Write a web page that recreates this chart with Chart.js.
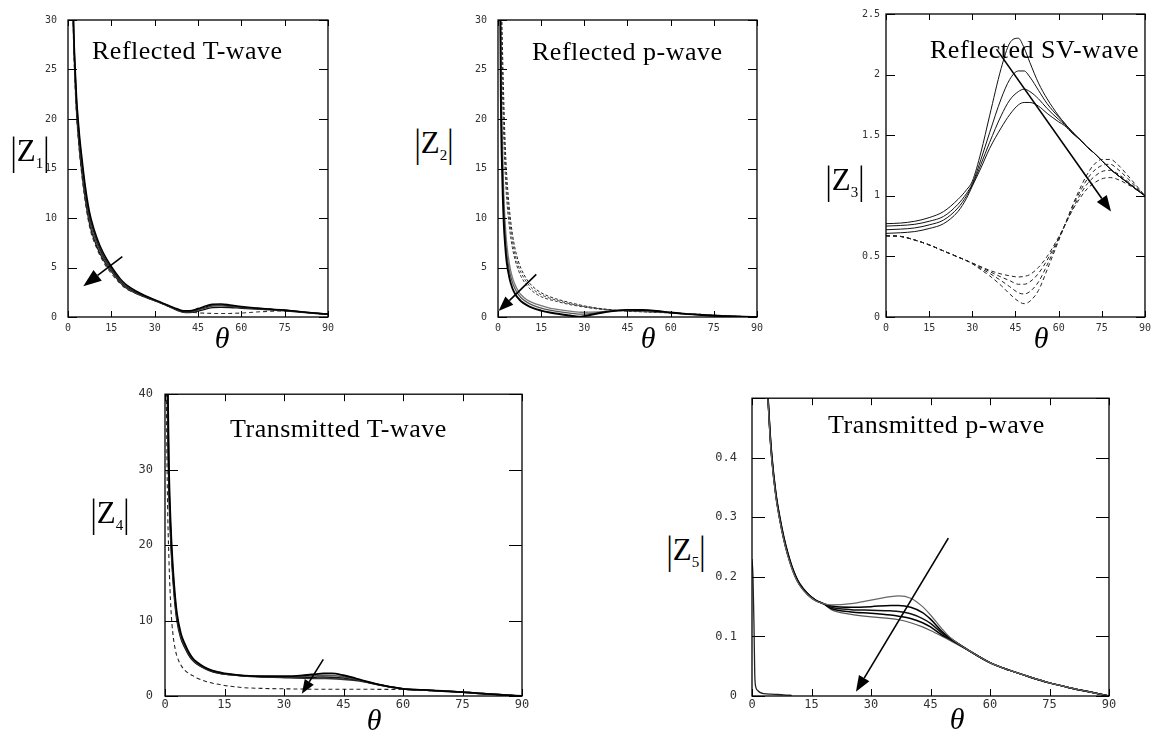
<!DOCTYPE html>
<html>
<head>
<meta charset="utf-8">
<script src="https://cdn.jsdelivr.net/npm/chart.js@4.4.1/dist/chart.umd.min.js"></script>
<style>
  body { margin: 0; width: 1161px; height: 733px; position: relative; overflow: hidden; background: #fff; font-family: 'Liberation Serif', 'Times New Roman', serif; color: #000; }
  canvas { position: absolute; }
  .title { position: absolute; font-size: 26px; line-height: 26px; letter-spacing: .5px; white-space: nowrap; }
  .zlab { position: absolute; transform: translate(-50%, -50%); font-size: 31px; line-height: 1; white-space: nowrap; color: #000; }
  .zlab .bar { display: inline-block; transform: scaleY(1.3); }
  .zlab sub { font-size: 15px; color: #000; }
  .theta { position: absolute; transform: translate(-50%, -50%); font-size: 30px; font-style: italic; line-height: 1; }
</style>
</head>
<body>
<div class="title" style="left:92px;top:38px">Reflected T-wave</div>
<div class="title" style="left:532px;top:39px">Reflected p-wave</div>
<div class="title" style="left:930px;top:37px">Reflected SV-wave</div>
<div class="title" style="left:230px;top:416px">Transmitted T-wave</div>
<div class="title" style="left:828px;top:412px">Transmitted p-wave</div>

<div class="zlab" style="left:30px;top:153px"><span class="bar">|</span>Z<sub>1</sub><span class="bar">|</span></div>
<div class="zlab" style="left:434px;top:145px"><span class="bar">|</span>Z<sub>2</sub><span class="bar">|</span></div>
<div class="zlab" style="left:845px;top:182px"><span class="bar">|</span>Z<sub>3</sub><span class="bar">|</span></div>
<div class="zlab" style="left:110px;top:515px"><span class="bar">|</span>Z<sub>4</sub><span class="bar">|</span></div>
<div class="zlab" style="left:686px;top:552px"><span class="bar">|</span>Z<sub>5</sub><span class="bar">|</span></div>

<div class="theta" style="left:222px;top:338px">θ</div>
<div class="theta" style="left:648px;top:338px">θ</div>
<div class="theta" style="left:1041px;top:338px">θ</div>
<div class="theta" style="left:374px;top:720px">θ</div>
<div class="theta" style="left:957px;top:719px">θ</div>

<script>
// angle grid shared by all panels
const thetaTicks = [0, 15, 30, 45, 60, 75, 90];

// |Z1| reflected T-wave
const th1 = [1.5, 2, 2.5, 3, 3.5, 4, 5, 6, 7, 8, 10, 12, 15, 18, 20, 25, 30, 35, 38, 40, 42, 45, 48, 50, 53, 56, 60, 65, 70, 75, 80, 85, 90];
const z1a = [36, 29, 25, 22, 20, 18.3, 15.6, 13.2, 11.3, 9.9, 8.0, 6.6, 5.1, 3.9, 3.3, 2.4, 1.75, 1.15, 0.8, 0.62, 0.62, 0.85, 1.15, 1.3, 1.32, 1.22, 1.05, 0.9, 0.8, 0.7, 0.55, 0.4, 0.3];
const z1b = [35, 28.5, 24.5, 21.5, 19.5, 17.8, 15.1, 12.8, 10.9, 9.5, 7.7, 6.3, 4.9, 3.7, 3.1, 2.3, 1.7, 1.1, 0.72, 0.55, 0.56, 0.78, 1.05, 1.2, 1.22, 1.15, 1.0, 0.88, 0.78, 0.68, 0.54, 0.4, 0.3];
const z1c = [34, 28, 24, 21, 19, 17.3, 14.6, 12.3, 10.5, 9.1, 7.4, 6.1, 4.7, 3.6, 3.0, 2.25, 1.68, 1.08, 0.68, 0.5, 0.5, 0.7, 0.95, 1.1, 1.12, 1.07, 0.95, 0.85, 0.76, 0.66, 0.52, 0.38, 0.28];
const z1d = [33, 27.5, 23.5, 20.5, 18.5, 16.8, 14.1, 11.9, 10.1, 8.8, 7.1, 5.9, 4.6, 3.5, 2.95, 2.2, 1.65, 1.05, 0.65, 0.48, 0.45, 0.6, 0.82, 0.95, 0.98, 0.96, 0.88, 0.8, 0.72, 0.62, 0.5, 0.36, 0.26];
const z1e = [34, 27, 23, 20.2, 18.2, 16.5, 13.8, 11.6, 9.8, 8.5, 6.9, 5.7, 4.4, 3.4, 2.9, 2.2, 1.65, 1.05, 0.7, 0.55, 0.48, 0.42, 0.38, 0.36, 0.35, 0.36, 0.4, 0.5, 0.58, 0.62, 0.52, 0.38, 0.28];
const z1Ticks = [0, 5, 10, 15, 20, 25, 30];

// |Z2| reflected p-wave
const th2 = [0.5, 1, 1.5, 2, 2.5, 3, 4, 5, 6, 7, 8, 10, 12, 15, 18, 20, 25, 28, 30, 35, 40, 45, 50, 55, 60, 65, 70, 75, 80, 85, 90];
const z2a = [45, 22, 14, 9.5, 7.2, 5.6, 3.9, 2.9, 2.3, 1.9, 1.6, 1.2, 0.92, 0.65, 0.45, 0.35, 0.15, 0.04, 0.1, 0.38, 0.6, 0.72, 0.7, 0.6, 0.45, 0.32, 0.22, 0.13, 0.07, 0.03, 0];
const z2b = [45, 24, 16, 11, 8.3, 6.5, 4.6, 3.5, 2.8, 2.3, 1.95, 1.5, 1.2, 0.9, 0.7, 0.6, 0.4, 0.3, 0.3, 0.45, 0.6, 0.7, 0.68, 0.58, 0.44, 0.32, 0.22, 0.13, 0.07, 0.03, 0];
const z2c = [45, 26, 18, 12.5, 9.5, 7.5, 5.3, 4.0, 3.2, 2.65, 2.25, 1.75, 1.45, 1.15, 0.9, 0.8, 0.6, 0.5, 0.48, 0.52, 0.62, 0.68, 0.65, 0.56, 0.43, 0.31, 0.21, 0.13, 0.07, 0.03, 0];
const z2d = [50, 36, 28, 22, 17.5, 14.5, 10.8, 8.4, 6.8, 5.7, 4.9, 3.8, 3.1, 2.45, 2.05, 1.85, 1.45, 1.25, 1.12, 0.88, 0.72, 0.62, 0.56, 0.5, 0.44, 0.36, 0.28, 0.2, 0.12, 0.06, 0];
const z2e = [48, 33, 25.5, 20, 16, 13.2, 9.9, 7.7, 6.2, 5.2, 4.5, 3.5, 2.85, 2.25, 1.9, 1.72, 1.35, 1.17, 1.06, 0.84, 0.7, 0.6, 0.54, 0.48, 0.42, 0.34, 0.26, 0.19, 0.11, 0.05, 0];
const z2f = [46, 30, 23, 18, 14.5, 12, 9.0, 7.0, 5.7, 4.8, 4.1, 3.2, 2.6, 2.05, 1.75, 1.6, 1.25, 1.1, 1.0, 0.8, 0.67, 0.58, 0.52, 0.46, 0.4, 0.32, 0.25, 0.18, 0.1, 0.05, 0];
const z2Ticks = [0, 5, 10, 15, 20, 25, 30];

// |Z3| reflected SV-wave
const th3 = [0, 5, 10, 15, 20, 25, 28, 30, 33, 36, 40, 43, 46, 48, 50, 53, 56, 60, 62, 65, 68, 70, 72, 75, 78, 80, 85, 90];
const z3a = [0.77, 0.775, 0.79, 0.82, 0.87, 0.97, 1.05, 1.12, 1.36, 1.66, 2.05, 2.26, 2.3, 2.22, 2.1, 1.93, 1.8, 1.66, 1.6, 1.52, 1.45, 1.4, 1.36, 1.29, 1.22, 1.18, 1.09, 1.0];
const z3b = [0.75, 0.755, 0.765, 0.79, 0.83, 0.93, 1.02, 1.1, 1.3, 1.52, 1.8, 1.96, 2.03, 2.03, 1.98, 1.87, 1.76, 1.65, 1.6, 1.52, 1.45, 1.4, 1.36, 1.29, 1.22, 1.18, 1.09, 1.0];
const z3c = [0.72, 0.725, 0.735, 0.76, 0.8, 0.9, 1.0, 1.09, 1.26, 1.44, 1.66, 1.79, 1.86, 1.88, 1.86, 1.8, 1.72, 1.63, 1.59, 1.52, 1.45, 1.4, 1.36, 1.29, 1.22, 1.18, 1.09, 1.0];
const z3d = [0.69, 0.695, 0.705, 0.73, 0.77, 0.87, 0.98, 1.08, 1.23, 1.39, 1.56, 1.67, 1.75, 1.77, 1.77, 1.74, 1.68, 1.61, 1.58, 1.51, 1.45, 1.4, 1.36, 1.29, 1.22, 1.18, 1.09, 1.0];
const z3e = [0.67, 0.665, 0.635, 0.595, 0.545, 0.495, 0.465, 0.445, 0.415, 0.385, 0.355, 0.34, 0.33, 0.335, 0.35, 0.41, 0.5, 0.66, 0.75, 0.89, 1.0, 1.06, 1.1, 1.14, 1.15, 1.14, 1.08, 1.0];
const z3f = [0.67, 0.665, 0.635, 0.595, 0.545, 0.495, 0.465, 0.445, 0.41, 0.375, 0.33, 0.3, 0.27, 0.27, 0.29, 0.36, 0.47, 0.65, 0.75, 0.9, 1.03, 1.1, 1.15, 1.2, 1.21, 1.19, 1.1, 1.0];
const z3g = [0.67, 0.665, 0.635, 0.595, 0.545, 0.495, 0.465, 0.44, 0.4, 0.36, 0.3, 0.25, 0.2, 0.19, 0.21, 0.29, 0.43, 0.64, 0.75, 0.92, 1.06, 1.14, 1.2, 1.25, 1.26, 1.23, 1.12, 1.0];
const z3h = [0.67, 0.665, 0.635, 0.595, 0.545, 0.495, 0.465, 0.44, 0.39, 0.34, 0.26, 0.19, 0.13, 0.11, 0.13, 0.22, 0.39, 0.63, 0.75, 0.93, 1.09, 1.18, 1.25, 1.3, 1.3, 1.27, 1.14, 1.0];
const z3Ticks = [0, 0.5, 1, 1.5, 2, 2.5];

// |Z4| transmitted T-wave
const th4 = [0.3, 0.6, 1, 1.5, 2, 2.5, 3, 4, 5, 6, 7, 8, 10, 12, 15, 18, 20, 25, 30, 35, 38, 40, 42, 45, 48, 50, 55, 60, 65, 70, 75, 80, 85, 90];
const z4a = [70, 45, 30, 22, 17, 13.5, 11, 8.3, 6.9, 5.8, 5.0, 4.5, 3.8, 3.35, 3.0, 2.8, 2.7, 2.62, 2.62, 2.75, 2.9, 3.0, 3.0, 2.75, 2.35, 2.05, 1.4, 0.95, 0.8, 0.66, 0.52, 0.32, 0.15, 0];
const z4b = [66, 43, 29, 21, 16.5, 13, 10.6, 8.0, 6.7, 5.65, 4.9, 4.4, 3.75, 3.3, 2.95, 2.78, 2.68, 2.6, 2.55, 2.6, 2.7, 2.75, 2.72, 2.55, 2.25, 2.0, 1.4, 0.95, 0.8, 0.66, 0.52, 0.32, 0.15, 0];
const z4c = [62, 41, 28, 20.5, 16, 12.6, 10.3, 7.8, 6.5, 5.5, 4.8, 4.3, 3.7, 3.25, 2.92, 2.76, 2.66, 2.55, 2.48, 2.45, 2.5, 2.52, 2.5, 2.38, 2.15, 1.95, 1.38, 0.95, 0.8, 0.66, 0.52, 0.32, 0.15, 0];
const z4d = [58, 39, 27, 20, 15.5, 12.2, 10, 7.6, 6.4, 5.4, 4.7, 4.25, 3.65, 3.2, 2.9, 2.74, 2.64, 2.52, 2.43, 2.35, 2.33, 2.32, 2.3, 2.2, 2.05, 1.9, 1.36, 0.94, 0.79, 0.65, 0.51, 0.32, 0.15, 0];
const z4e = [42, 27, 18, 11.5, 8.2, 6.4, 5.3, 4.1, 3.4, 3.0, 2.7, 2.4, 2.0, 1.7, 1.4, 1.2, 1.1, 1.0, 0.95, 0.92, 0.9, 0.9, 0.9, 0.9, 0.89, 0.89, 0.88, 0.86, 0.76, 0.64, 0.5, 0.32, 0.15, 0];
const z4Ticks = [0, 10, 20, 30, 40];

// |Z5| transmitted p-wave
const th5 = [3.5, 4, 4.5, 5, 6, 7, 8, 9, 10, 11, 12, 14, 16, 18, 20, 25, 30, 35, 37, 40, 43, 45, 48, 50, 55, 60, 65, 70, 75, 80, 85, 90];
const z5a = [0.56, 0.5, 0.44, 0.395, 0.335, 0.295, 0.262, 0.236, 0.215, 0.198, 0.186, 0.17, 0.16, 0.155, 0.153, 0.155, 0.161, 0.167, 0.168, 0.164, 0.15, 0.136, 0.112, 0.098, 0.075, 0.056, 0.043, 0.032, 0.022, 0.014, 0.007, 0];
const z5b = [0.565, 0.503, 0.443, 0.398, 0.338, 0.297, 0.264, 0.238, 0.217, 0.2, 0.187, 0.171, 0.161, 0.155, 0.151, 0.149, 0.15, 0.152, 0.152, 0.149, 0.14, 0.129, 0.108, 0.097, 0.075, 0.056, 0.043, 0.032, 0.022, 0.014, 0.007, 0];
const z5c = [0.57, 0.506, 0.446, 0.401, 0.34, 0.299, 0.266, 0.24, 0.218, 0.201, 0.188, 0.172, 0.161, 0.155, 0.149, 0.145, 0.144, 0.143, 0.142, 0.138, 0.13, 0.122, 0.105, 0.096, 0.075, 0.056, 0.043, 0.032, 0.022, 0.014, 0.007, 0];
const z5d = [0.575, 0.509, 0.449, 0.404, 0.342, 0.301, 0.268, 0.241, 0.219, 0.202, 0.189, 0.172, 0.161, 0.155, 0.147, 0.141, 0.139, 0.136, 0.134, 0.13, 0.123, 0.116, 0.102, 0.095, 0.075, 0.056, 0.043, 0.032, 0.022, 0.014, 0.007, 0];
const z5e = [0.56, 0.5, 0.44, 0.395, 0.335, 0.295, 0.262, 0.236, 0.215, 0.198, 0.186, 0.17, 0.16, 0.155, 0.145, 0.137, 0.133, 0.13, 0.128, 0.123, 0.116, 0.11, 0.1, 0.093, 0.075, 0.056, 0.043, 0.032, 0.022, 0.014, 0.007, 0];
const th5s = [0, 0.25, 0.5, 0.7, 1, 1.5, 2, 3, 5, 8, 10];
const z5s = [0.23, 0.2, 0.12, 0.035, 0.014, 0.009, 0.006, 0.004, 0.003, 0.002, 0.001];
const z5Ticks = [0, 0.1, 0.2, 0.3, 0.4, 0.5];

// direction arrows, [from, to] in (theta, |Z|)
const arrow1 = [[18.8, 6.1], [5.3, 3.1]];
const arrow2 = [[13.3, 4.3], [0.2, 0.6]];
const arrow3 = [[38.4, 2.21], [78.2, 0.87]];
const arrow4 = [[39.9, 4.85], [34.5, 0.3]];
const arrow5 = [[49.5, 0.265], [26.2, 0.007]];

// box, inward ticks on all four sides, and the arrow
const framePlugin = {
  id: 'frame',
  afterDatasetsDraw(chart, args, opts) {
    const { ctx, chartArea: a, scales: { x, y } } = chart;
    ctx.save();
    ctx.strokeStyle = '#000';
    ctx.lineWidth = 1.3;
    ctx.strokeRect(a.left, a.top, a.right - a.left, a.bottom - a.top);
    ctx.beginPath();
    x.ticks.forEach(t => {
      const px = Math.round(x.getPixelForValue(t.value)) + 0.5;
      ctx.moveTo(px, a.bottom); ctx.lineTo(px, a.bottom - opts.xTick);
      ctx.moveTo(px, a.top); ctx.lineTo(px, a.top + opts.xTick);
    });
    y.ticks.forEach(t => {
      const py = Math.round(y.getPixelForValue(t.value)) + 0.5;
      ctx.moveTo(a.left, py); ctx.lineTo(a.left + opts.yTick, py);
      ctx.moveTo(a.right, py); ctx.lineTo(a.right - opts.yTick, py);
    });
    ctx.lineWidth = 1;
    ctx.stroke();

    if (opts.arrow) {
      const [p0, p1] = opts.arrow;
      const x0 = x.getPixelForValue(p0[0]), y0 = y.getPixelForValue(p0[1]);
      const x1 = x.getPixelForValue(p1[0]), y1 = y.getPixelForValue(p1[1]);
      const ang = Math.atan2(y1 - y0, x1 - x0);
      const hl = opts.head || 15, hw = (opts.head || 15) * 0.38;
      const bx = x1 - hl * Math.cos(ang), by = y1 - hl * Math.sin(ang);
      ctx.fillStyle = '#000';
      ctx.lineWidth = 1.6;
      ctx.beginPath();
      ctx.moveTo(x0, y0); ctx.lineTo(bx, by);
      ctx.stroke();
      ctx.beginPath();
      ctx.moveTo(x1, y1);
      ctx.lineTo(bx + hw * Math.sin(ang), by - hw * Math.cos(ang));
      ctx.lineTo(bx - hw * Math.sin(ang), by + hw * Math.cos(ang));
      ctx.closePath();
      ctx.fill();
    }
    ctx.restore();
  }
};

function line(xs, ys, color, width, dash) {
  return {
    data: xs.map((v, i) => ({ x: v, y: ys[i] })),
    borderColor: color,
    borderWidth: width,
    borderDash: dash || [],
    pointRadius: 0,
    fill: false,
    cubicInterpolationMode: 'monotone'
  };
}

function panel(p) {
  const [L, R, T, B] = p.rect;
  const c = document.createElement('canvas');
  c.width = R - L + 50;
  c.height = B - T + 40;
  c.style.left = (L - 40) + 'px';
  c.style.top = (T - 10) + 'px';
  document.body.insertBefore(c, document.body.firstChild);

  const font = { family: 'DejaVu Sans Mono', size: p.fontSize };
  new Chart(c, {
    type: 'line',
    data: { datasets: p.series },
    options: {
      responsive: false,
      animation: false,
      devicePixelRatio: 1,
      layout: { padding: { top: 10, right: 10, left: 0, bottom: 0 } },
      plugins: {
        legend: { display: false },
        tooltip: { enabled: false },
        frame: { xTick: p.xTick, yTick: p.yTick, arrow: p.arrow, head: p.head }
      },
      scales: {
        x: {
          type: 'linear', min: 0, max: 90,
          afterBuildTicks: s => { s.ticks = thetaTicks.map(v => ({ value: v })); },
          ticks: { font, color: '#333', padding: p.xPad, maxRotation: 0, autoSkip: false },
          grid: { display: false, drawTicks: false },
          border: { display: false },
          afterFit: s => { s.height = 30; }
        },
        y: {
          type: 'linear', min: 0, max: p.yTicks[p.yTicks.length - 1],
          afterBuildTicks: s => { s.ticks = p.yTicks.map(v => ({ value: v })); },
          ticks: { font, color: '#333', padding: p.yPad, autoSkip: false, callback: p.yLabel || (v => v) },
          grid: { display: false, drawTicks: false },
          border: { display: false },
          afterFit: s => { s.width = 40; }
        }
      }
    },
    plugins: [framePlugin]
  });
}

const dash = [4, 3];

panel({
  rect: [68, 329, 13, 317], fontSize: 10, xPad: 5, yPad: 11, xTick: 6, yTick: 9,
  yTicks: z1Ticks, arrow: arrow1, head: 18,
  series: [
    line(th1, z1a, '#000', 1.5), line(th1, z1b, '#222', 1.4), line(th1, z1c, '#444', 1.3),
    line(th1, z1d, '#111', 1.3), line(th1, z1e, '#333', 1.1, dash)
  ]
});

panel({
  rect: [498, 758, 13, 317], fontSize: 10, xPad: 5, yPad: 11, xTick: 6, yTick: 9,
  yTicks: z2Ticks, arrow: arrow2, head: 15,
  series: [
    line(th2, z2a, '#000', 1.9), line(th2, z2b, '#555', 1.3), line(th2, z2c, '#777', 1.3),
    line(th2, z2d, '#222', 1, [3, 2]), line(th2, z2e, '#444', 1, [3, 2]), line(th2, z2f, '#333', 1, [3, 2])
  ]
});

panel({
  rect: [886, 1146, 12, 317], fontSize: 10, xPad: 5, yPad: 6, xTick: 6, yTick: 9,
  yTicks: z3Ticks, arrow: arrow3, head: 16,
  series: [
    line(th3, z3a, '#111', 1), line(th3, z3b, '#111', 1), line(th3, z3c, '#111', 1), line(th3, z3d, '#111', 1),
    line(th3, z3e, '#222', 1, dash), line(th3, z3f, '#222', 1, dash), line(th3, z3g, '#222', 1, dash), line(th3, z3h, '#222', 1, dash)
  ]
});

panel({
  rect: [165, 522, 385, 696], fontSize: 12, xPad: 2, yPad: 12, xTick: 7, yTick: 13,
  yTicks: z4Ticks, arrow: arrow4, head: 14,
  series: [
    line(th4, z4a, '#000', 1.8), line(th4, z4b, '#555', 1.5), line(th4, z4c, '#111', 1.5),
    line(th4, z4d, '#333', 1.5), line(th4, z4e, '#222', 1.1, dash)
  ]
});

panel({
  rect: [752, 1109, 386, 696], fontSize: 12, xPad: 2, yPad: 15, xTick: 7, yTick: 13,
  yTicks: z5Ticks, arrow: arrow5, head: 16,
  yLabel: v => v > 0.45 ? '' : (v === 0 ? '0' : v.toFixed(1)),
  series: [
    line(th5, z5a, '#666', 1.2), line(th5, z5b, '#000', 1.5), line(th5, z5c, '#111', 1.5),
    line(th5, z5d, '#000', 1.5), line(th5, z5e, '#555', 1.2),
    line(th5s, z5s, '#222', 1.3)
  ]
});
</script>
</body>
</html>
